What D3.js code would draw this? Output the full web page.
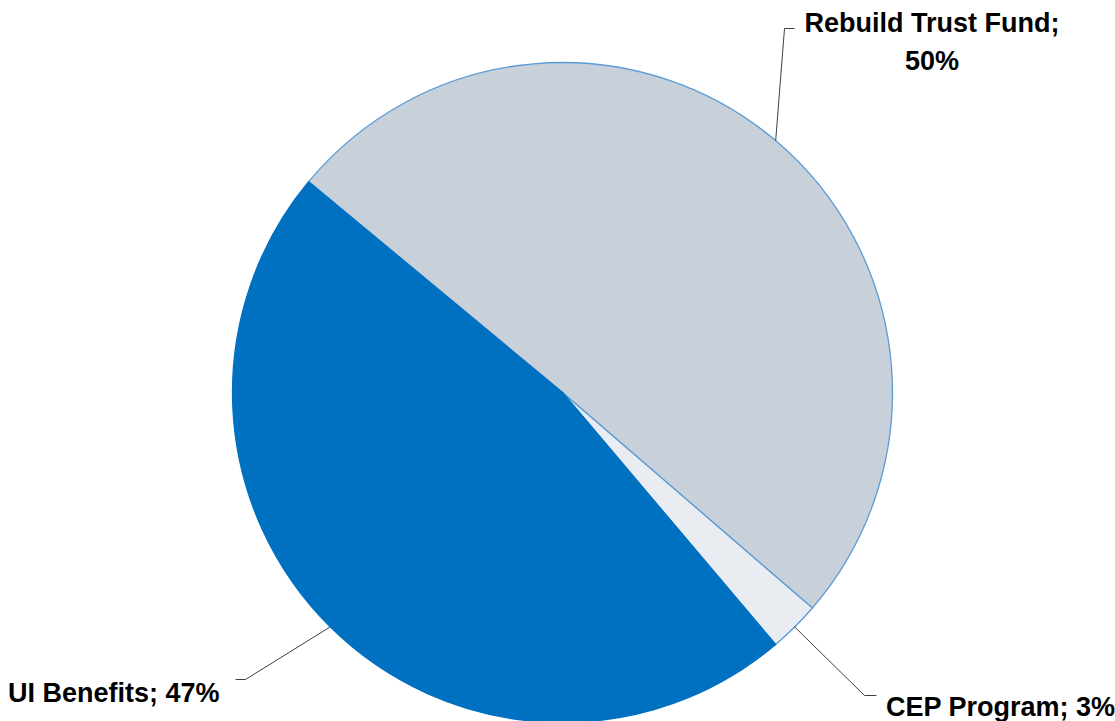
<!DOCTYPE html>
<html>
<head>
<meta charset="utf-8">
<script src="https://cdn.jsdelivr.net/npm/d3@7"></script>
<style>
  body { margin: 0; background: #fff; }
  text { font-family: "Liberation Sans Narrow", "Liberation Sans", Arial, sans-serif; font-weight: bold; fill: #000; }
</style>
</head>
<body>
<script>
var categories = ["Rebuild Trust Fund", "CEP Program", "UI Benefits"];
var values = [50.3, 2.5, 47.2];
var colors = ["#c8d0da", "#e9edf1", "#0070c0"];

var width = 1115, height = 721;
var cx = 562.5, cy = 392.5, radius = 330;

var svg = d3.select("body")
  .append("svg")
  .attr("width", width)
  .attr("height", height)

var data = categories.map(function (c, i) { return { name: c, value: values[i], color: colors[i] } })

var pie = d3.pie()
  .sort(null)
  .value(function (d) { return d.value })
  .startAngle(-50.3 * Math.PI / 180)
  .endAngle((360 - 50.3) * Math.PI / 180)

var arc = d3.arc().innerRadius(0).outerRadius(radius)

var g = svg.append("g").attr("transform", "translate(" + cx + "," + cy + ")")

var arcs = pie(data)

g.selectAll("path")
  .data(arcs)
  .enter()
  .append("path")
  .attr("d", arc)
  .attr("fill", function (d) { return d.data.color })
  .attr("stroke", function (d) { return d.index == 2 ? "#0070c0" : "#5b9bd5" })
  .attr("stroke-width", 1.3)

// leader lines: start on the rim at the slice's mid angle, bend, then short horizontal tick
var leaders = [
  { elbow: [222, -364], tickDx: 10 },
  { elbow: [302, 303], tickDx: 12 },
  { elbow: [-317, 287], tickDx: -10 }
]

function rim(d) {
  var a = (d.startAngle + d.endAngle) / 2
  return [Math.sin(a) * radius, -Math.cos(a) * radius]
}

g.selectAll("polyline")
  .data(arcs)
  .enter()
  .append("polyline")
  .attr("points", function (d, i) {
    var p = rim(d), e = leaders[i].elbow
    return [p, e, [e[0] + leaders[i].tickDx, e[1]]].map(function (q) { return q.join(",") }).join(" ")
  })
  .attr("fill", "none")
  .attr("stroke", "#404040")
  .attr("stroke-width", 1)

function pct(i) { return Math.round(values[i]) + "%" }

// labels
var fs = 27
var lab0 = svg.append("text")
  .attr("text-anchor", "middle")
  .attr("font-size", fs)
lab0.append("tspan").attr("x", 932).attr("y", 32).text(categories[0] + ";")
lab0.append("tspan").attr("x", 932).attr("y", 70).text(pct(0))

svg.append("text")
  .attr("x", 886).attr("y", 716)
  .attr("font-size", fs)
  .text(categories[1] + "; " + pct(1))

svg.append("text")
  .attr("x", 8).attr("y", 702)
  .attr("font-size", fs)
  .text(categories[2] + "; " + pct(2))
</script>
</body>
</html>
